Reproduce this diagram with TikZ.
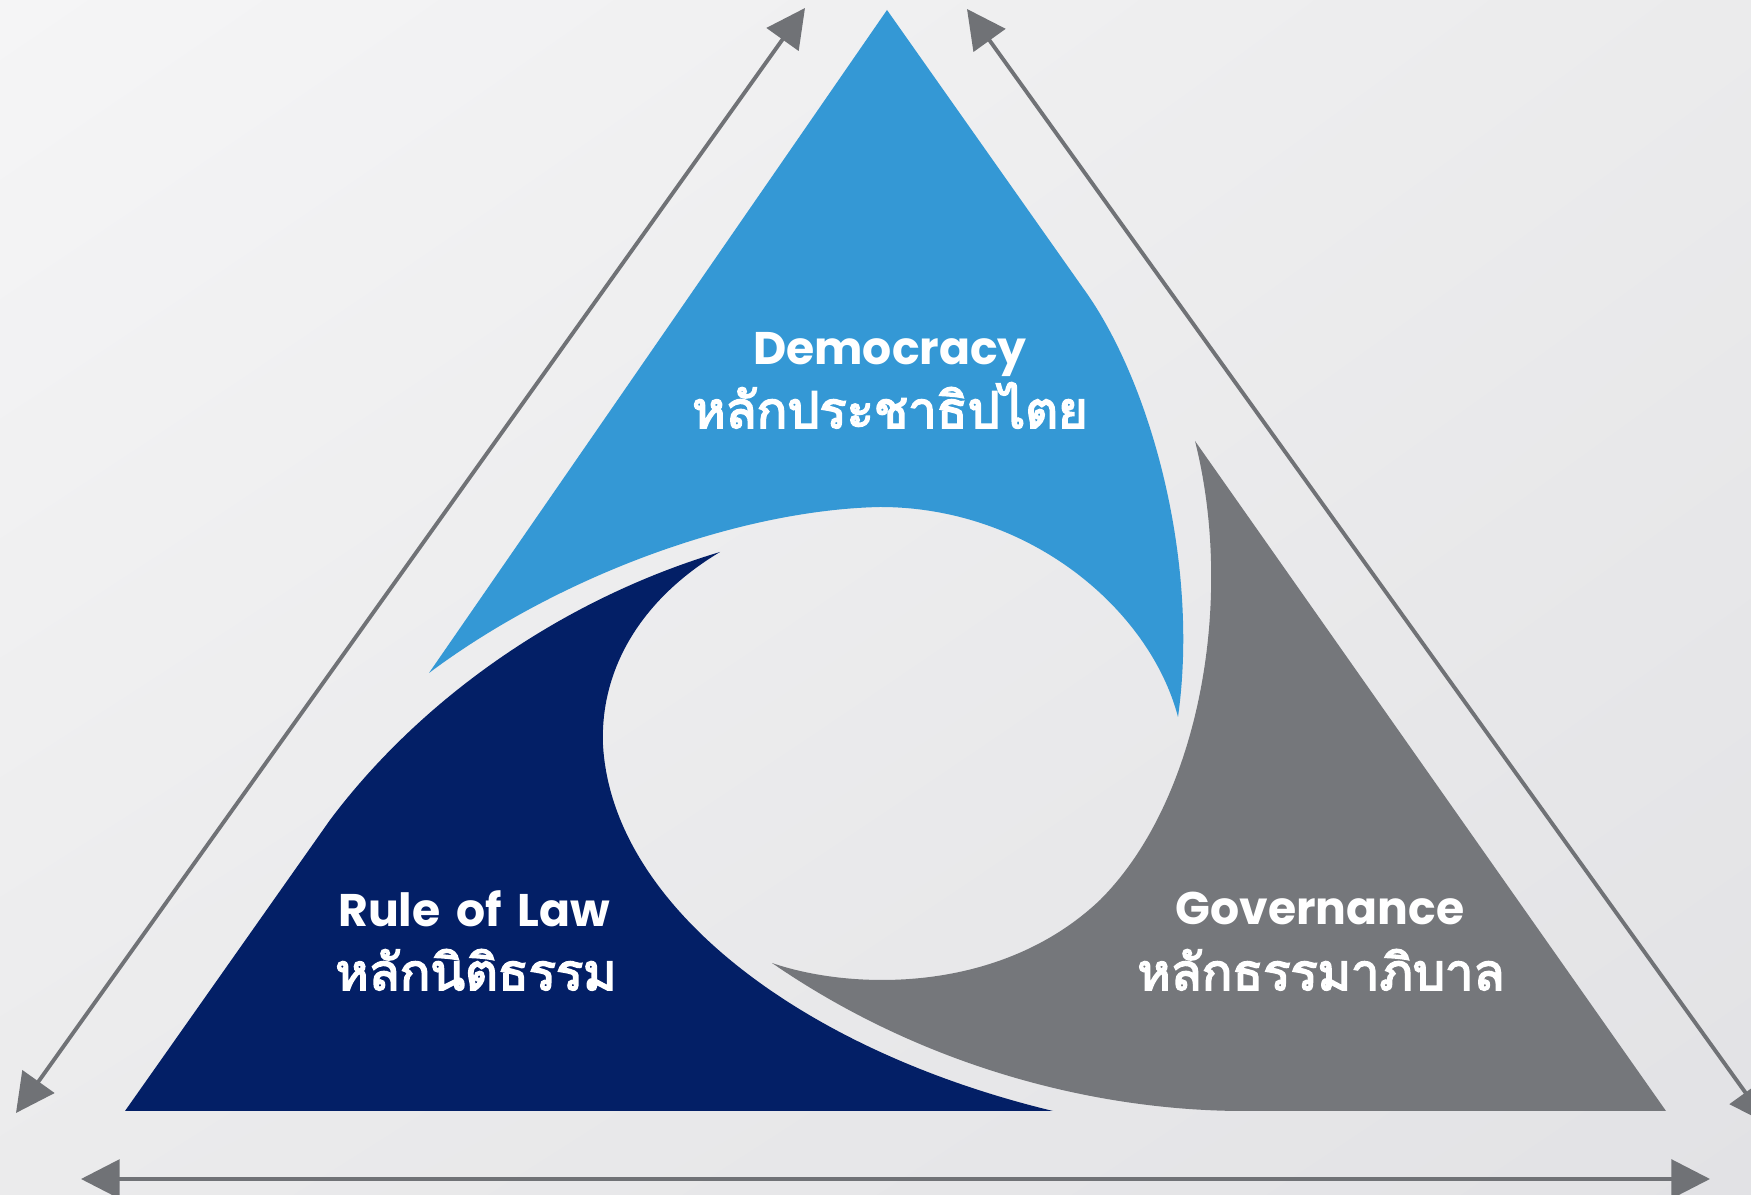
\documentclass[tikz,border=0pt]{standalone}
\usepackage{fontspec}
\setmainfont{Poppins}[WordSpace=1.6]
\newfontfamily\thaifont[Script=Thai,FakeBold=3.5]{Loma}
\usetikzlibrary{arrows.meta,shadings}

\definecolor{demblue}{HTML}{3498D5}
\definecolor{lawnavy}{HTML}{031F66}
\definecolor{govgray}{HTML}{75777B}
\definecolor{arrowgray}{HTML}{707276}
\definecolor{bglight}{HTML}{F5F5F6}
\definecolor{bgmid}{HTML}{EBEBEC}
\definecolor{bgdark}{HTML}{E2E2E5}

\begin{document}
\begin{tikzpicture}[x=0.01cm,y=-0.01cm,
  engtext/.style={text=white,font=\bfseries\fontsize{13}{16}\selectfont,anchor=base},
  thaitext/.style={text=white,font=\thaifont\fontsize{14.4}{18}\selectfont,anchor=base},
  sidearrow/.style={draw=arrowgray,line width=1.1pt,{Triangle[length=11pt,width=11pt]}-{Triangle[length=11pt,width=11pt]}}]

\useasboundingbox (0,0) rectangle (1751,1195);
\clip (0,0) rectangle (1751,1195);
\shade[upper left=bglight,upper right=bgmid,lower left=bgmid,lower right=bgdark] (0,0) rectangle (1751,1195);

\fill[demblue] (887,10) -- (1083,288) .. controls (1150,380) and (1200,560) .. (1178,717)
  .. controls (1150,610) and (1030,507) .. (880,507)
  .. controls (740,510) and (560,575) .. (429,673) -- cycle;

\fill[lawnavy] (125,1111) -- (330,820) .. controls (420,700) and (560,600) .. (720,552)
  .. controls (640,600) and (600,670) .. (603,745)
  .. controls (612,905) and (800,1050) .. (1053,1111) -- cycle;

\fill[govgray] (1195,441) -- (1666,1111) -- (1240,1111)
  .. controls (1090,1110) and (920,1065) .. (772,963)
  .. controls (850,990) and (1000,995) .. (1100,900)
  .. controls (1200,800) and (1235,600) .. (1195,441) -- cycle;

\node (dem1) at (890,365) [engtext]{Democracy};
\node (dem2) at (890,428) [thaitext]{หลักประชาธิปไตย};

\node (law1) at (474,927) [engtext]{Rule of Law};
\node (law2) at (476,990) [thaitext]{หลักนิติธรรม};

\node (gov1) at (1320,925) [engtext]{Governance};
\node (gov2) at (1321,990) [thaitext]{หลักธรรมาภิบาล};

\coordinate (lt) at (805,8);
\coordinate (lb) at (16,1113);
\coordinate (rt) at (967,9);
\coordinate (rb) at (1768,1124);
\coordinate (bl) at (81,1179);
\coordinate (br) at (1710,1179);

\draw [sidearrow] (lt) -- (lb);
\draw [sidearrow] (rt) -- (rb);
\draw [sidearrow] (bl) -- (br);

\end{tikzpicture}
\end{document}
